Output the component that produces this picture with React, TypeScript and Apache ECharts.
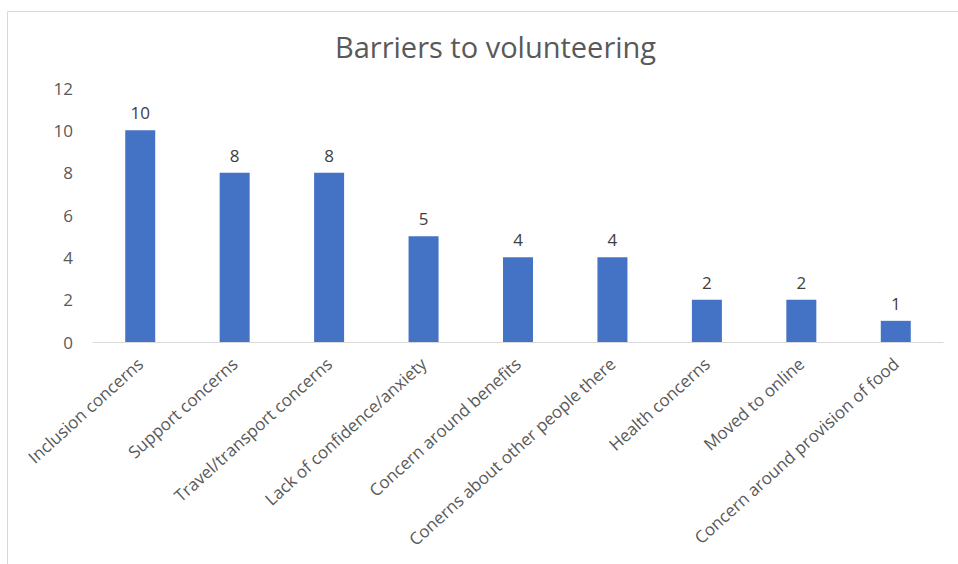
import React, { useEffect, useRef } from "react";
import * as echarts from "echarts";

const categories = [
  "Inclusion concerns",
  "Support concerns",
  "Travel/transport concerns",
  "Lack of confidence/anxiety",
  "Concern around benefits",
  "Conerns about other people there",
  "Health concerns",
  "Moved to online",
  "Concern around provision of food",
];
const values = [10, 8, 8, 5, 4, 4, 2, 2, 1];
const titleText = "Barriers to volunteering";

const FONT = "'Open Sans', 'Noto Sans', sans-serif";

export default function App() {
  const ref = useRef<HTMLDivElement>(null);
  useEffect(() => {
    if (!ref.current) return;
    const chart = echarts.init(ref.current, undefined, { renderer: "svg" });
    chart.setOption({
      animation: false,
      backgroundColor: "#ffffff",
      textStyle: { fontFamily: FONT },
      title: {
        text: titleText,
        left: 330,
        top: 27,
        textStyle: { fontFamily: FONT, fontSize: 29, fontWeight: "normal", color: "#595959" },
      },
      graphic: [
        {
          type: "rect",
          shape: { x: 7.5, y: 11.5, width: 1000, height: 700 },
          style: { fill: "none", stroke: "#d9d9d9", lineWidth: 1 },
          silent: true,
        },
      ],
      grid: { left: 93, right: 15, top: 88, bottom: 222, containLabel: false },
      xAxis: {
        type: "category",
        data: categories,
        axisLine: { show: true, lineStyle: { color: "#d9d9d9", width: 1 } },
        axisTick: { show: false },
        axisLabel: {
          interval: 0,
          rotate: 42,
          margin: 19,
          fontFamily: FONT,
          fontSize: 17,
          color: "#595959",
        },
      },
      yAxis: {
        type: "value",
        min: 0,
        max: 12,
        interval: 2,
        axisLine: { show: false },
        axisTick: { show: false },
        splitLine: { show: false },
        axisLabel: { margin: 20, fontFamily: FONT, fontSize: 17, color: "#595959" },
      },
      series: [
        {
          type: "bar",
          data: values,
          barWidth: 30,
          itemStyle: { color: "#4472C4" },
          label: {
            show: true,
            position: "top",
            distance: 9,
            fontFamily: FONT,
            fontSize: 17,
            color: "#404040",
          },
        },
      ],
    });
    return () => chart.dispose();
  }, []);
  return (
    <div
      ref={ref}
      style={{ position: "absolute", left: 0, top: 0, width: 958, height: 564 }}
    />
  );
}
